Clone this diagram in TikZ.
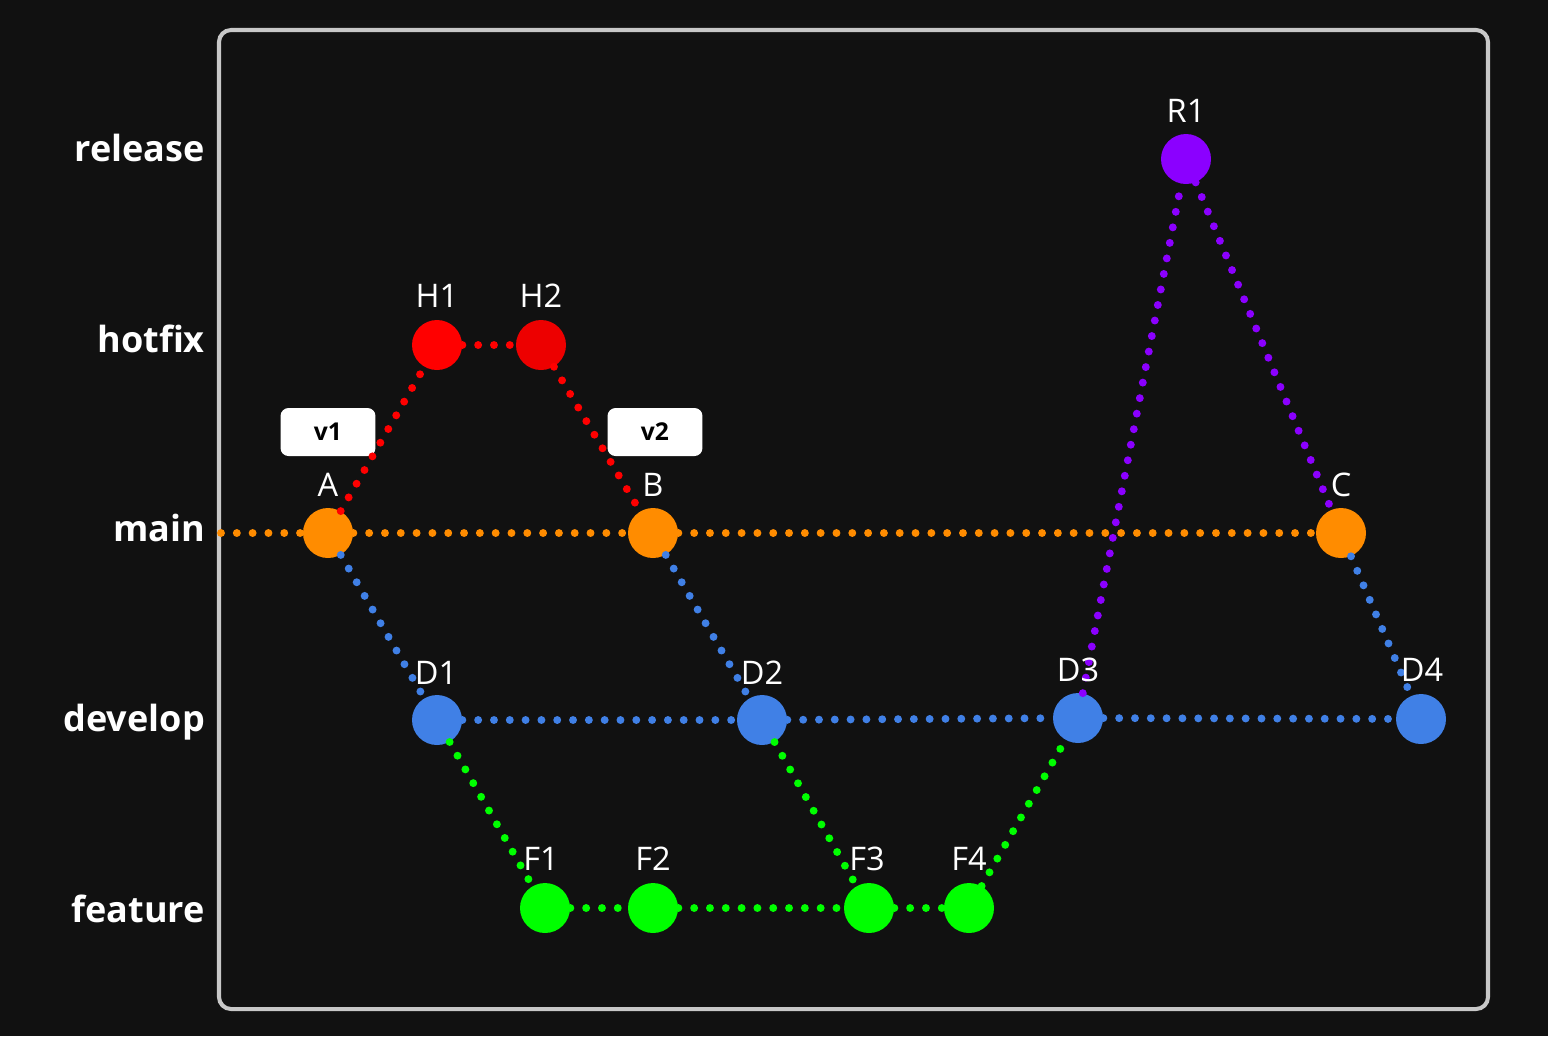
\documentclass[tikz,border=0pt]{standalone}
\usepackage{fontspec}
\setmainfont{Open Sans}
\definecolor{bgc}{HTML}{111111}
\definecolor{framec}{HTML}{C8C8C8}
\definecolor{mainc}{HTML}{FF8C00}
\definecolor{hotc}{HTML}{FF0000}
\definecolor{devc}{HTML}{4080E6}
\definecolor{featc}{HTML}{00FF00}
\definecolor{relc}{HTML}{8B00FF}
\begin{document}
\begin{tikzpicture}[x=0.02cm,y=-0.02cm,
  commit/.style={circle,minimum size=1cm,inner sep=0pt},
  link/.style={line width=4.5pt,line cap=round,dash pattern=on 0pt off 9pt},
  lane/.style={anchor=base east,text=white,font=\bfseries\fontsize{20.5}{20.5}\selectfont},
  clabel/.style={anchor=base,text=white,font=\fontsize{18.5}{18.5}\selectfont},
  tag/.style={fill=white,rounded corners=0.16cm,minimum width=1.9cm,minimum height=0.96cm,
    text=black,font=\bfseries\fontsize{14}{14}\selectfont}]
  % background and frame
  \fill[bgc] (0,0) rectangle (1548,1036);
  \draw[framec,line width=2.3pt,rounded corners=0.24cm] (219,30) rectangle (1488,1009);
  % lane names
  \node[lane] (lrelease) at (211,161) {release};
  \node[lane] (lhotfix) at (211,352) {hotfix};
  \node[lane] (lmain) at (211,541) {main};
  \node[lane] (ldevelop) at (211,731) {develop};
  \node[lane] (lfeature) at (211,922) {feature};
  % version tags
  \node[tag] (v1) at (328,432) {v1};
  \node[tag] (v2) at (655,432) {v2};
  % commits
  \node[commit,fill=relc] (R1) at (1186,159) {};
  \node[commit,fill=hotc] (H1) at (437,345) {};
  \node[commit,fill=hotc!93!black] (H2) at (541,345) {};
  \node[commit,fill=mainc] (A) at (328,533) {};
  \node[commit,fill=mainc] (B) at (653,533) {};
  \node[commit,fill=mainc] (C) at (1341,533) {};
  \node[commit,fill=devc] (D1) at (437,720) {};
  \node[commit,fill=devc] (D2) at (762,720) {};
  \node[commit,fill=devc] (D3) at (1078,718) {};
  \node[commit,fill=devc] (D4) at (1421,719) {};
  \node[commit,fill=featc] (F1) at (545,908) {};
  \node[commit,fill=featc] (F2) at (653,908) {};
  \node[commit,fill=featc] (F3) at (869,908) {};
  \node[commit,fill=featc] (F4) at (969,908) {};
  \coordinate (mstart) at (221,533);
  % main line
  \draw[link,mainc] (mstart) -- (A) -- (B) -- (C);
  % hotfix
  \draw[link,hotc] (A) -- (H1) -- (H2) -- (B);
  % develop
  \draw[link,devc] (A) -- (D1);
  \draw[link,devc] (B) -- (D2);
  \draw[link,devc] (C) -- (D4);
  \draw[link,devc] (D1) -- (D2) -- (D3) -- (D4);
  % feature
  \draw[link,featc] (D1) -- (F1) -- (F2) -- (F3) -- (F4) -- (D3);
  \draw[link,featc] (D2) -- (F3);
  % release
  \draw[link,relc] (D3) -- (R1) -- (C);
  % commit names
  \node[clabel] (tR1) at (1186,122) {R1};
  \node[clabel] (tH1) at (437,307) {H1};
  \node[clabel] (tH2) at (541,307) {H2};
  \node[clabel] (tA) at (328,496) {A};
  \node[clabel] (tB) at (653,496) {B};
  \node[clabel] (tC) at (1341,496) {C};
  \node[clabel] (tD1) at (436,684) {D1};
  \node[clabel] (tD2) at (762,684) {D2};
  \node[clabel] (tD3) at (1078,681) {D3};
  \node[clabel] (tD4) at (1422,681) {D4};
  \node[clabel] (tF1) at (541,870) {F1};
  \node[clabel] (tF2) at (653,870) {F2};
  \node[clabel] (tF3) at (867,870) {F3};
  \node[clabel] (tF4) at (969,870) {F4};
\end{tikzpicture}
\end{document}
